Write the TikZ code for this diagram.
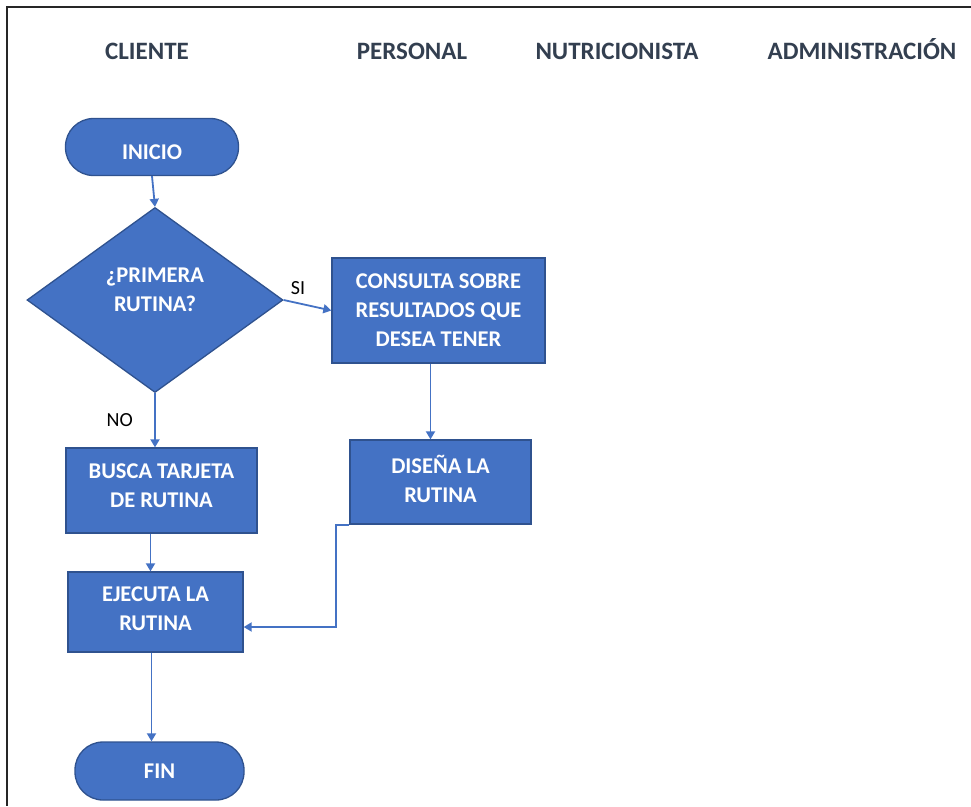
\documentclass[tikz,border=0pt]{standalone}
\usepackage{fontspec}
\setmainfont{Carlito}
\usepackage{tikz}
\usetikzlibrary{shapes.geometric,arrows.meta}
\definecolor{azul}{HTML}{4472C4}
\definecolor{borde}{HTML}{2F528F}
\definecolor{titulo}{HTML}{333F50}
\tikzstyle{caja} = [draw=borde, fill=azul, line width=1.3pt, text=white,
	align=center, inner sep=0pt, font=\fontsize{22.5}{29}\selectfont\bfseries]
\tikzstyle{proceso} = [caja, rectangle]
\tikzstyle{terminal} = [caja, rectangle, rounded corners=28pt]
\tikzstyle{decision} = [caja, diamond, aspect=1.38]
\tikzstyle{flecha} = [draw=azul, line width=1.8pt,
	-{Triangle[width=9pt,length=8pt]}]
\tikzstyle{carril} = [text=titulo, anchor=base, font=\fontsize{25}{30}\selectfont\bfseries]
\tikzstyle{etiqueta} = [font=\fontsize{20}{24}\selectfont]

\begin{document}
\begin{tikzpicture}[x=1pt, y=-1pt]
				\useasboundingbox (0,0) rectangle (971,806);
				\draw [line width=2pt, black!85] (971,7) -- (7,7) -- (7,806);
				
				% carriles
				\node [carril] (cliente)  at (147,59) {CLIENTE};
				\node [carril] (personal) at (412,59) {PERSONAL};
				\node [carril] (nutri)    at (617,59) {NUTRICIONISTA};
				\node [carril] (admin)    at (862,59) {ADMINISTRACIÓN};
				
				% pasos
				\node [terminal, minimum width=173pt, minimum height=57pt, text height=24.5pt] (inicio) at (152,147) {INICIO};
				\node [decision, minimum width=256pt, minimum height=185pt, text depth=20pt] (primera) at (155,300) {¿PRIMERA\\RUTINA?};
				\node [proceso, minimum width=213pt, minimum height=105pt] (consulta) at (438.5,310.5) {CONSULTA SOBRE\\RESULTADOS QUE\\DESEA TENER};
				\node [proceso, minimum width=191pt, minimum height=85pt, text depth=10pt] (busca) at (161.5,490.5) {BUSCA TARJETA\\DE RUTINA};
				\node [proceso, minimum width=181pt, minimum height=84pt, text depth=6pt] (disena) at (440.5,482) {DISEÑA LA\\RUTINA};
				\node [proceso, minimum width=175pt, minimum height=80pt, text depth=6pt] (ejecuta) at (155.5,612) {EJECUTA LA\\RUTINA};
				\node [terminal, minimum width=169pt, minimum height=58pt] (fin) at (159.5,771) {FIN};
				
				% conectores
				\draw [flecha] (inicio.south) -- (primera.north);
				\draw [flecha] (primera.east) -- node [etiqueta, pos=0.3, above=4pt] {SI} (consulta.west);
				\draw [flecha] (primera.south) -- node [etiqueta, left=18pt] {NO} (primera.south |- busca.north);
				\draw [flecha] ([xshift=-8pt]consulta.south) -- ([xshift=-8pt]consulta.south |- disena.north);
				\draw [flecha] ([xshift=-11pt]busca.south) -- ([xshift=-11pt]busca.south |- ejecuta.north);
				\draw [flecha] (disena.south west) -- ++(-13,0) |- ([yshift=-15pt]ejecuta.east);
				\draw [flecha] ([xshift=-4pt]ejecuta.south) -- ([xshift=-4pt]ejecuta.south |- fin.north);
				
\end{tikzpicture}
\end{document}
